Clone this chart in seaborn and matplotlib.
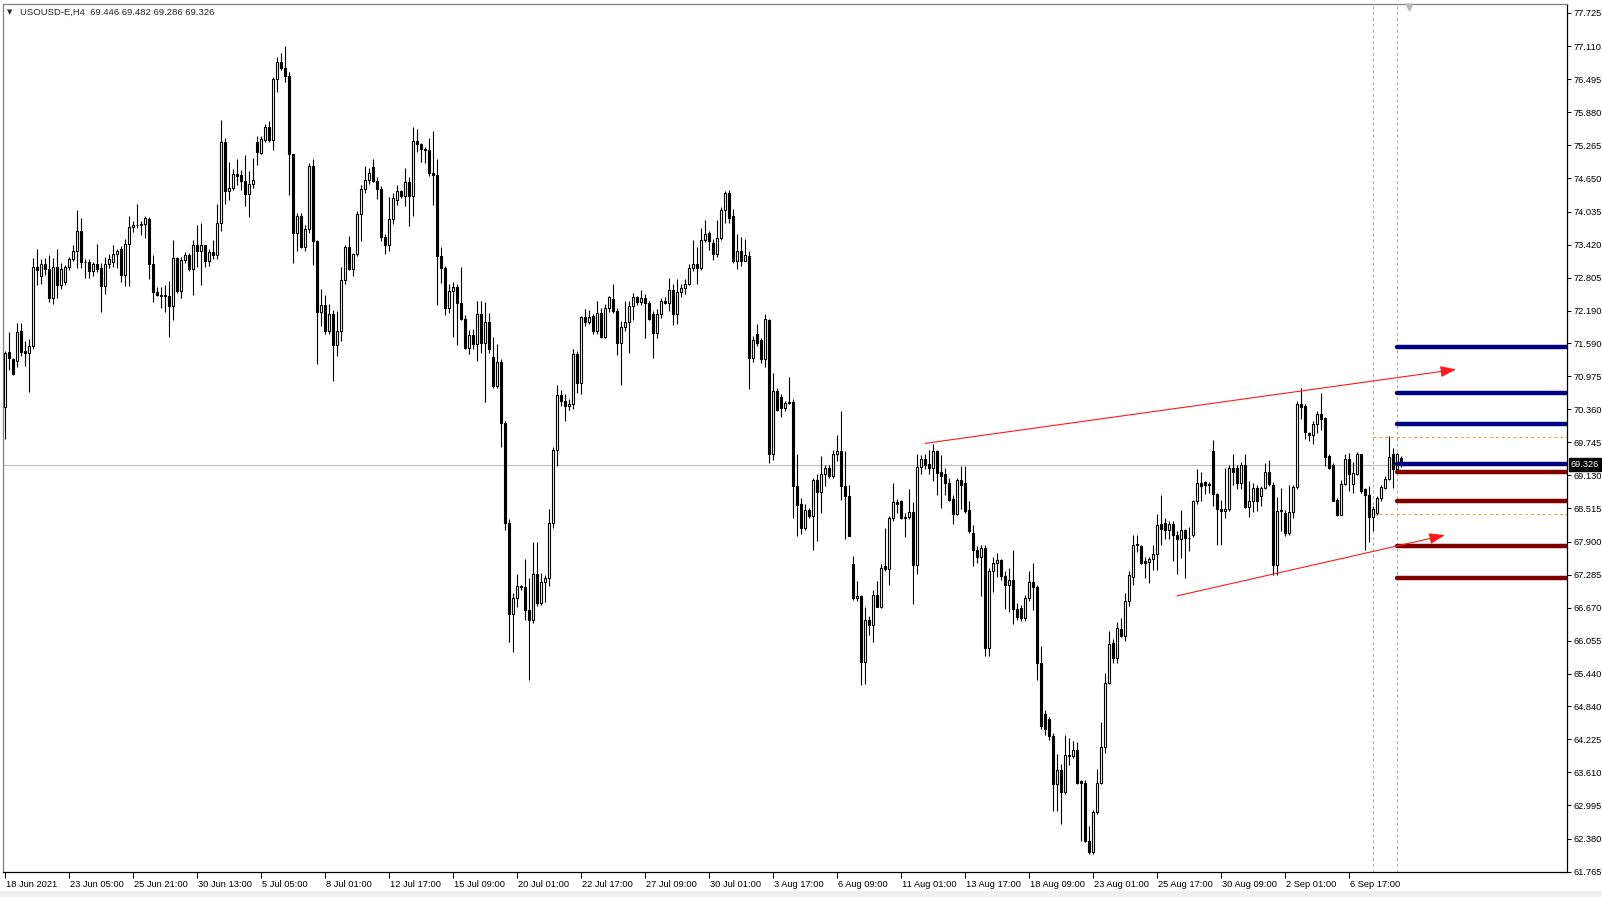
import matplotlib
matplotlib.use("Agg")
import matplotlib.pyplot as plt
import matplotlib.transforms as mtransforms
import numpy as np
import pandas as pd
import seaborn as sns

# USOUSD-E H4 candles (bar 0 = 18 Jun 2021)
opens = [70.40, 71.42, 71.29, 71.26, 71.81, 71.45, 71.40, 71.53, 73.00, 72.83,
         73.06, 72.97, 72.42, 73.00, 72.66, 72.73, 73.00, 73.16, 73.30, 73.68,
         73.10, 73.09, 72.92, 73.06, 72.98, 72.65, 73.06, 73.10, 73.24, 73.33,
         72.85, 73.44, 73.75, 73.79, 73.78, 73.80, 73.90, 73.06, 72.54, 72.49,
         72.47, 72.46, 72.27, 73.17, 72.55, 73.14, 73.23, 72.96, 73.42, 73.31,
         73.41, 73.11, 73.29, 73.22, 73.83, 75.32, 74.41, 74.47, 74.74, 74.71,
         74.61, 74.36, 74.54, 75.33, 75.13, 75.36, 75.61, 75.36, 76.49, 76.82,
         76.70, 76.55, 75.11, 73.64, 73.96, 73.38, 73.71, 74.89, 73.48, 72.16,
         72.29, 71.81, 72.13, 71.55, 71.81, 72.76, 73.38, 72.96, 73.24, 73.99,
         74.46, 74.62, 74.87, 74.61, 74.46, 73.56, 73.41, 73.89, 74.24, 74.41,
         74.33, 74.58, 74.33, 75.35, 75.29, 75.20, 75.17, 74.75, 74.71, 73.20,
         72.98, 72.24, 72.56, 72.64, 72.33, 72.04, 71.49, 71.74, 71.58, 72.13,
         71.60, 71.98, 71.33, 70.80, 71.23, 70.11, 68.25, 66.55, 66.85, 67.08,
         67.05, 66.62, 66.45, 67.30, 66.75, 67.15, 67.23, 68.25, 69.60, 70.63,
         70.52, 70.42, 70.45, 71.39, 70.85, 72.08, 71.99, 72.10, 71.81, 72.14,
         71.71, 72.25, 72.41, 72.18, 71.60, 71.89, 71.99, 72.27, 72.44, 72.35,
         72.43, 72.33, 72.13, 71.77, 72.13, 72.38, 72.34, 72.58, 72.13, 72.53,
         72.61, 72.68, 72.99, 73.06, 72.99, 73.51, 73.63, 73.45, 73.24, 73.55,
         74.07, 74.38, 73.96, 73.11, 73.30, 73.11, 73.20, 71.31, 71.75, 71.64,
         71.29, 72.02, 69.52, 70.70, 70.58, 70.39, 70.48, 70.50, 68.93, 68.60,
         68.16, 68.49, 68.37, 69.04, 68.82, 69.16, 69.27, 69.12, 69.52, 69.58,
         68.93, 68.74, 67.49, 66.85, 66.89, 65.67, 66.44, 66.35, 66.91, 66.69,
         67.44, 67.39, 68.33, 68.63, 68.65, 68.34, 68.36, 68.45, 67.47, 69.29,
         69.44, 69.35, 69.27, 69.58, 69.20, 69.15, 68.98, 68.69, 68.42, 69.05,
         68.98, 68.48, 68.05, 67.75, 67.61, 67.78, 65.92, 67.35, 67.51, 67.55,
         67.26, 67.10, 67.19, 66.64, 66.66, 66.47, 66.85, 67.14, 67.05, 65.64,
         64.70, 64.61, 64.28, 63.39, 63.66, 63.24, 63.93, 63.91, 64.03, 63.45,
         63.41, 62.34, 62.13, 62.87, 63.41, 64.08, 65.28, 66.01, 65.73, 66.27,
         66.15, 66.80, 67.25, 67.85, 67.81, 67.53, 67.52, 67.58, 67.66, 68.23,
         68.25, 68.12, 68.22, 68.03, 67.95, 68.12, 67.97, 68.02, 68.66, 68.99,
         69.00, 68.96, 69.59, 68.78, 68.50, 68.47, 68.50, 69.27, 69.26, 68.99,
         69.33, 68.54, 68.65, 68.90, 68.74, 68.90, 69.20, 68.96, 67.46, 68.46,
         68.43, 68.06, 68.45, 68.91, 70.45, 70.42, 69.92, 69.89, 70.09, 70.27,
         70.19, 69.49, 69.32, 68.68, 68.40, 68.97, 69.43, 68.97, 69.16, 69.52,
         68.87, 68.77, 68.35, 68.43, 68.71, 68.90, 69.07, 69.52, 69.24, 69.446]

highs = [71.45, 71.79, 71.31, 71.96, 71.96, 71.63, 71.67, 73.17, 73.34, 73.16,
         73.17, 73.22, 73.17, 73.33, 73.08, 73.04, 73.19, 73.42, 74.06, 73.92,
         73.16, 73.16, 73.09, 73.44, 73.08, 73.19, 73.24, 73.42, 73.33, 73.39,
         73.53, 73.95, 73.85, 74.18, 73.85, 73.95, 73.93, 73.23, 72.63, 72.63,
         72.66, 72.75, 73.51, 73.19, 73.19, 73.29, 73.26, 73.50, 73.79, 73.83,
         73.42, 73.33, 73.51, 74.18, 75.74, 75.41, 74.96, 74.82, 75.02, 74.80,
         75.09, 74.79, 75.03, 75.44, 75.43, 75.67, 75.72, 76.53, 76.90, 76.98,
         77.12, 76.62, 75.11, 74.01, 74.00, 73.78, 74.93, 75.01, 73.51, 72.60,
         72.49, 72.31, 72.21, 72.18, 73.01, 73.41, 73.58, 73.27, 74.04, 74.53,
         74.89, 74.84, 75.01, 74.67, 74.51, 73.61, 74.31, 74.38, 74.53, 74.44,
         74.84, 74.67, 75.61, 75.57, 75.31, 75.24, 75.41, 75.54, 75.01, 73.38,
         73.02, 72.68, 72.73, 72.68, 73.01, 72.11, 71.84, 71.86, 72.38, 72.38,
         72.36, 72.14, 71.71, 71.58, 71.29, 70.15, 68.32, 66.95, 67.30, 67.10,
         67.58, 67.22, 67.90, 67.90, 67.32, 67.27, 68.50, 69.65, 70.81, 70.71,
         70.65, 70.55, 71.48, 71.45, 72.10, 72.22, 72.20, 72.13, 72.38, 72.25,
         72.32, 72.47, 72.69, 72.24, 72.00, 72.37, 72.38, 72.52, 72.47, 72.58,
         72.50, 72.38, 72.19, 72.22, 72.43, 72.44, 72.80, 72.69, 72.78, 72.69,
         72.78, 73.06, 73.51, 73.37, 73.72, 73.88, 73.68, 73.53, 73.88, 74.12,
         74.42, 74.44, 74.09, 73.62, 73.57, 73.53, 73.31, 71.72, 71.94, 71.69,
         72.13, 72.04, 71.04, 70.76, 70.64, 70.52, 70.96, 70.55, 69.53, 68.71,
         68.59, 68.52, 69.08, 69.15, 69.49, 69.32, 69.32, 69.61, 69.88, 70.33,
         69.58, 68.96, 67.64, 67.16, 66.91, 66.69, 66.51, 67.00, 67.16, 67.49,
         68.15, 68.37, 68.99, 68.69, 68.68, 68.43, 68.88, 68.63, 69.52, 69.50,
         69.52, 69.61, 69.71, 69.61, 69.50, 69.27, 69.09, 68.77, 69.09, 69.30,
         69.30, 68.65, 68.20, 67.81, 67.84, 67.84, 67.41, 67.62, 67.69, 67.58,
         67.35, 67.41, 67.74, 66.75, 66.72, 66.91, 67.36, 67.51, 67.10, 65.95,
         64.77, 64.64, 64.34, 63.96, 63.76, 64.30, 64.24, 64.19, 64.18, 63.47,
         63.46, 62.62, 62.91, 63.68, 64.55, 65.46, 66.23, 66.08, 66.41, 66.47,
         66.95, 67.35, 68.03, 68.03, 67.84, 67.62, 67.62, 67.84, 68.41, 68.76,
         68.34, 68.28, 68.28, 68.09, 68.49, 68.14, 68.18, 68.68, 69.24, 69.20,
         69.02, 69.01, 69.78, 68.81, 68.68, 69.26, 69.33, 69.52, 69.32, 69.38,
         69.52, 69.02, 68.99, 68.96, 68.93, 69.36, 69.41, 69.01, 68.72, 68.90,
         68.49, 68.95, 68.95, 70.52, 70.76, 70.45, 69.94, 70.14, 70.32, 70.67,
         70.22, 69.52, 69.36, 68.71, 69.04, 69.52, 69.55, 69.38, 69.57, 69.53,
         68.90, 68.93, 68.56, 68.74, 68.95, 69.12, 69.86, 69.64, 69.55, 69.482]

lows = [69.80, 71.08, 71.00, 71.14, 71.34, 71.17, 70.68, 71.48, 72.67, 72.69,
        72.85, 72.35, 72.32, 72.42, 72.60, 72.66, 72.94, 73.11, 72.98, 72.98,
        72.80, 72.80, 72.83, 72.91, 72.16, 72.50, 72.98, 73.01, 72.99, 72.72,
        72.65, 72.65, 73.65, 73.73, 73.59, 73.54, 72.78, 72.36, 72.46, 72.25,
        72.16, 71.70, 72.01, 72.52, 72.42, 73.08, 72.93, 72.49, 73.00, 72.66,
        73.01, 73.02, 73.16, 73.16, 73.67, 74.18, 74.25, 74.43, 74.52, 74.43,
        74.14, 73.93, 74.47, 74.90, 75.10, 75.33, 75.32, 75.18, 76.25, 76.67,
        76.45, 74.34, 73.08, 73.31, 73.35, 73.31, 73.64, 73.04, 71.20, 71.91,
        71.76, 71.76, 70.89, 71.35, 71.62, 72.68, 72.94, 72.84, 73.20, 73.48,
        74.38, 74.55, 74.58, 74.27, 73.48, 73.24, 73.31, 73.80, 74.16, 74.28,
        74.14, 73.76, 73.96, 75.14, 74.95, 74.94, 74.69, 74.16, 72.29, 72.71,
        72.11, 72.14, 71.71, 71.56, 72.02, 71.48, 71.38, 71.47, 71.25, 71.41,
        70.49, 71.41, 70.76, 70.75, 69.65, 68.11, 66.03, 65.85, 66.68, 67.00,
        66.45, 65.32, 66.38, 66.70, 66.72, 66.78, 67.08, 68.15, 69.30, 70.42,
        70.14, 70.35, 70.36, 70.67, 70.65, 71.91, 71.95, 71.76, 71.76, 71.68,
        71.68, 72.16, 72.14, 71.37, 70.81, 71.82, 71.40, 72.01, 72.29, 72.29,
        71.68, 72.01, 71.32, 71.68, 72.06, 72.31, 72.19, 71.93, 71.94, 72.44,
        72.50, 72.66, 72.93, 72.69, 72.95, 73.47, 73.32, 73.14, 73.19, 73.51,
        73.82, 73.82, 73.08, 72.97, 73.03, 73.11, 70.73, 71.23, 71.54, 71.21,
        71.14, 69.36, 69.41, 70.33, 70.22, 70.33, 70.45, 68.33, 68.00, 68.04,
        68.12, 68.34, 67.75, 67.91, 68.43, 68.93, 69.08, 69.08, 69.40, 68.68,
        67.95, 68.00, 66.82, 66.79, 65.23, 65.26, 66.17, 66.04, 66.68, 66.66,
        67.35, 67.10, 68.28, 68.43, 68.32, 67.98, 68.32, 66.74, 67.30, 69.15,
        69.24, 69.15, 69.02, 68.77, 68.53, 68.77, 68.65, 68.22, 68.40, 68.50,
        68.43, 68.06, 67.44, 67.50, 66.89, 65.77, 65.77, 66.97, 67.25, 67.19,
        66.64, 66.60, 66.37, 66.45, 66.43, 66.43, 66.80, 66.62, 65.33, 64.42,
        64.30, 64.21, 62.90, 62.90, 62.65, 63.21, 63.74, 63.88, 63.39, 62.34,
        62.31, 62.09, 62.09, 62.84, 63.39, 63.97, 65.25, 65.64, 65.64, 66.12,
        66.05, 66.70, 67.10, 67.71, 67.48, 67.22, 67.13, 67.38, 67.38, 67.84,
        67.94, 67.94, 67.53, 67.30, 67.59, 67.22, 67.72, 67.98, 68.59, 68.65,
        68.79, 68.81, 68.56, 67.84, 67.83, 68.33, 68.46, 68.96, 68.87, 68.87,
        68.53, 68.35, 68.45, 68.46, 68.56, 68.87, 68.94, 67.28, 67.28, 68.09,
        68.00, 68.03, 68.34, 68.87, 70.17, 69.80, 69.77, 69.71, 69.91, 69.97,
        69.30, 69.24, 68.65, 68.37, 68.39, 68.96, 68.84, 68.81, 69.14, 68.81,
        67.75, 67.90, 68.09, 68.40, 68.65, 68.87, 69.05, 68.90, 69.21, 69.286]

closes = [71.41, 71.31, 71.01, 71.80, 71.43, 71.40, 71.53, 73.00, 72.94, 73.06,
          72.96, 72.42, 73.00, 72.66, 72.96, 73.00, 73.16, 73.30, 73.68, 73.10,
          73.09, 72.92, 73.06, 72.96, 72.65, 73.06, 73.16, 73.25, 73.31, 72.85,
          73.44, 73.75, 73.79, 73.78, 73.80, 73.92, 73.06, 72.54, 72.49, 72.47,
          72.49, 72.27, 73.17, 72.55, 73.14, 73.23, 72.96, 73.42, 73.31, 73.41,
          73.11, 73.29, 73.22, 73.83, 75.32, 74.41, 74.47, 74.74, 74.70, 74.61,
          74.36, 74.54, 74.62, 75.15, 75.38, 75.61, 75.36, 76.49, 76.82, 76.70,
          76.55, 75.11, 73.64, 73.96, 73.38, 73.71, 74.89, 73.48, 72.16, 72.29,
          71.81, 72.13, 71.55, 71.81, 72.76, 73.38, 72.96, 73.24, 73.99, 74.46,
          74.62, 74.75, 74.61, 74.46, 73.56, 73.41, 73.89, 74.28, 74.41, 74.33,
          74.58, 74.33, 75.35, 75.29, 75.20, 75.17, 74.75, 74.71, 73.20, 72.98,
          72.24, 72.56, 72.64, 72.33, 72.04, 71.49, 71.74, 71.58, 72.13, 71.60,
          71.98, 71.48, 70.80, 71.23, 70.11, 68.25, 66.55, 66.85, 67.08, 67.05,
          66.62, 66.45, 67.30, 66.75, 67.15, 67.23, 68.25, 69.60, 70.63, 70.52,
          70.42, 70.46, 71.39, 70.85, 72.08, 71.99, 72.08, 71.81, 72.14, 71.71,
          72.25, 72.45, 72.18, 71.60, 71.89, 71.99, 72.27, 72.44, 72.35, 72.43,
          72.33, 72.04, 71.77, 72.13, 72.38, 72.34, 72.58, 72.13, 72.53, 72.61,
          72.68, 72.99, 73.06, 72.99, 73.51, 73.62, 73.49, 73.24, 73.55, 74.07,
          74.38, 73.92, 73.11, 73.31, 73.11, 73.22, 71.31, 71.64, 71.60, 71.29,
          72.04, 69.53, 70.70, 70.34, 70.39, 70.48, 70.50, 68.93, 68.58, 68.16,
          68.49, 68.37, 69.04, 68.82, 69.16, 69.26, 69.12, 69.52, 69.58, 68.93,
          68.74, 68.01, 66.85, 66.89, 65.67, 66.44, 66.35, 66.91, 66.69, 67.41,
          67.39, 68.33, 68.63, 68.59, 68.34, 68.36, 68.45, 67.47, 69.29, 69.44,
          69.33, 69.27, 69.58, 69.18, 69.12, 68.98, 68.68, 68.42, 69.05, 68.96,
          68.46, 68.09, 67.74, 67.61, 67.78, 65.92, 67.35, 67.51, 67.55, 67.26,
          67.10, 67.19, 66.64, 66.50, 66.47, 66.85, 67.14, 67.05, 65.64, 64.47,
          64.41, 64.28, 63.39, 63.66, 63.24, 63.93, 63.91, 64.03, 63.41, 63.41,
          62.33, 62.13, 62.87, 63.41, 64.08, 65.28, 65.99, 65.73, 66.29, 66.15,
          66.80, 67.28, 67.84, 67.83, 67.50, 67.50, 67.58, 67.66, 68.20, 68.14,
          68.12, 68.22, 68.03, 67.94, 68.12, 67.97, 67.96, 68.66, 68.99, 68.94,
          68.96, 68.95, 68.78, 68.50, 68.47, 68.50, 69.27, 69.20, 68.99, 69.33,
          68.54, 68.65, 68.90, 68.66, 68.90, 69.20, 68.97, 67.46, 68.46, 68.49,
          68.06, 68.45, 68.91, 70.45, 70.40, 69.94, 69.89, 70.09, 70.28, 70.17,
          69.47, 69.26, 68.66, 68.40, 68.97, 69.43, 69.16, 69.17, 69.53, 68.84,
          68.76, 68.35, 68.51, 68.71, 68.91, 69.07, 69.47, 69.24, 69.52, 69.326]

date_labels = ["18 Jun 2021", "23 Jun 05:00", "25 Jun 21:00", "30 Jun 13:00",
               "5 Jul 05:00", "8 Jul 01:00", "12 Jul 17:00", "15 Jul 09:00",
               "20 Jul 01:00", "22 Jul 17:00", "27 Jul 09:00", "30 Jul 01:00",
               "3 Aug 17:00", "6 Aug 09:00", "11 Aug 01:00", "13 Aug 17:00",
               "18 Aug 09:00", "23 Aug 01:00", "25 Aug 17:00", "30 Aug 09:00",
               "2 Sep 01:00", "6 Sep 17:00"]
price_ticks = [77.725, 77.110, 76.495, 75.880, 75.265, 74.650, 74.035, 73.420,
               72.805, 72.190, 71.590, 70.975, 70.360, 69.745, 69.130, 68.515,
               67.900, 67.285, 66.670, 66.055, 65.440, 64.840, 64.225, 63.610,
               62.995, 62.380, 61.765]

blue_levels = [71.51, 70.67, 70.09, 69.35]
red_levels = [69.19, 68.65, 67.81, 67.23]
orange_levels = [69.85, 68.41]
upper_trend_x = [230, 362.8]
upper_trend_y = [69.725, 71.10]
lower_trend_x = [293, 360]
lower_trend_y = [66.89, 68.02]
last_price = 69.326
header = "USOUSD-E,H4  69.446 69.482 69.286 69.326"

sns.set_style("white")
plt.rcParams['font.family'] = ['Liberation Sans', 'DejaVu Sans']

df = pd.DataFrame({'o': opens, 'h': highs, 'l': lows, 'c': closes})
df['bar'] = np.arange(len(df))
up = df['c'] >= df['o']
body = (df['c'] - df['o']).abs().clip(lower=0.012)

W, H = 1602, 897
fig = plt.figure(figsize=(W / 100, H / 100), dpi=100)
ax = fig.add_axes([3 / W, (H - 872) / H, (1567 - 3) / W, (872 - 4) / H])

# candles
ax.vlines(df['bar'], df['l'], df['h'], color='black', lw=0.8, zorder=2)
ax.bar(df['bar'][up], body[up], bottom=df['o'][up], width=0.55,
       facecolor='white', edgecolor='black', lw=0.8, zorder=3)
ax.bar(df['bar'][~up], body[~up], bottom=df['c'][~up], width=0.55,
       facecolor='black', edgecolor='black', lw=0.8, zorder=3)

# current price line
ax.axhline(last_price, color='#c0c0c0', lw=0.8, zorder=1)

# vertical separators and dashed levels
for b in [342, 348]:
    ax.axvline(b, color='#a8a8a8', lw=0.7, ls=(0, (3, 3)), zorder=1)
for lv in orange_levels:
    ax.plot([342, 400], [lv, lv], color='#e8a040', lw=0.7, ls=(0, (3, 3)), zorder=1)

# pivot style levels
for lv in blue_levels:
    ax.plot([348, 400], [lv, lv], color='#000080', lw=3.2,
            solid_capstyle='round', zorder=4)
for lv in red_levels:
    ax.plot([348, 400], [lv, lv], color='#800000', lw=3.2,
            solid_capstyle='round', zorder=4)

# trend lines with arrow heads
for xs, ys in [(upper_trend_x, upper_trend_y), (lower_trend_x, lower_trend_y)]:
    ax.annotate('', xy=(xs[1], ys[1]), xytext=(xs[0], ys[0]),
                arrowprops=dict(arrowstyle='-|>,head_length=0.8,head_width=0.28',
                                color='#ff1a1a', lw=0.8, mutation_scale=12,
                                shrinkA=0, shrinkB=0), zorder=5)

ax.set_xlim(-0.5, 390.5)
ax.set_ylim(61.758, 77.892)

# price axis on the right
ax.yaxis.tick_right()
ax.set_yticks(price_ticks)
ax.set_yticklabels([f"{p:.3f}" for p in price_ticks])
ax.tick_params(axis='y', right=True, left=False, length=3, width=0.7,
               pad=2, labelsize=6.7, colors='black')
ax.text(1.0025, last_price, f"{last_price:.3f}", transform=ax.get_yaxis_transform(),
        fontsize=6.7, color='white', va='center', ha='left', zorder=10,
        bbox=dict(boxstyle='square,pad=0.2', facecolor='black', edgecolor='black'),
        clip_on=False)

# time axis
ax.set_xticks(np.arange(len(date_labels)) * 16)
ax.set_xticklabels(date_labels)
ax.tick_params(axis='x', bottom=True, length=4, width=0.7, pad=1.5,
               labelsize=6.7, colors='black')
offset = mtransforms.ScaledTranslation(0.5 / 72, 0, fig.dpi_scale_trans)
for lab in ax.get_xticklabels():
    lab.set_horizontalalignment('left')
    lab.set_transform(lab.get_transform() + offset)

for side in ['right', 'bottom']:
    ax.spines[side].set_color('black')
    ax.spines[side].set_linewidth(0.9)
for side in ['left', 'top']:
    ax.spines[side].set_color('#808080')
    ax.spines[side].set_linewidth(0.9)

# header and chart shift marker
fig.text(20 / W, 1 - 12 / H, header, fontsize=6.8, va='center', ha='left')
fig.text(7 / W, 1 - 12 / H, '\u25bc', fontsize=5, va='center', ha='left',
         family=['DejaVu Sans'])
ax.scatter([351], [77.84], marker='v', s=22, color='#b8b8b8', clip_on=False, zorder=6)

# bottom window strip
fig.patches.append(plt.Rectangle((0, 0), 1, 6 / H, transform=fig.transFigure,
                                 facecolor='#f0f0f0', edgecolor='none'))

fig.savefig('out.png', dpi=100)
